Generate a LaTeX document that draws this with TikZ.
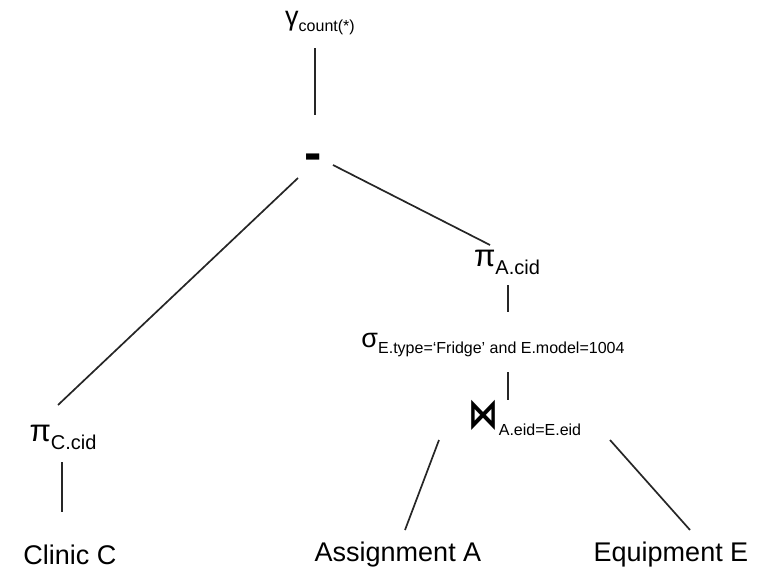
\documentclass[tikz,border=0pt]{standalone}
\usepackage{fontspec}
\setmainfont{Liberation Sans}
\newfontfamily\symfont{DejaVu Sans}
\usetikzlibrary{calc}

% lowered subscript of an operator
\newcommand\opsub[2][16]{{\fontsize{#1}{#1}\selectfont\raisebox{-0.4em}{#2}}}

\begin{document}
\begin{tikzpicture}[
    x=1pt, y=-1pt,
    op/.style={inner sep=0pt, font=\fontsize{27}{27}\selectfont},
    rel/.style={inner sep=0pt, font=\fontsize{27}{27}\selectfont},
    edge/.style={line width=1.7pt, draw=black!85}
]
\useasboundingbox (0,0) rectangle (769,570);

% Operators
\node[op] (gamma) at (320,23) {γ\opsub{count(*)}};
\node[op, font=\bfseries\fontsize{52}{52}\selectfont] (minus) at (313,162) {-};
\node[op, font=\fontsize{31}{31}\selectfont] (piA) at (507,262) {π\opsub[20]{A.cid}};
\node[op] (sigma) at (493,345) {σ\opsub{E.type=‘Fridge’ and E.model=1004}};
\node[op] (join) at (525,418) {{\symfont\bfseries\fontsize{40}{40}\selectfont\scalebox{0.75}[1.05]{⋈}}\opsub{A.eid=E.eid}};
\node[op, font=\fontsize{31}{31}\selectfont] (piC) at (63,437) {π\opsub[20]{C.cid}};

% Relations
\node[rel] (clinic) at (70,555) {Clinic C};
\node[rel] (assign) at (398,555) {Assignment A};
\node[rel] (equip) at (671,555) {Equipment E};

% Edges
\draw[edge] ($(gamma)+(-5,25)$) -- ($(minus)+(2,-47)$);
\draw[edge] ($(minus)+(-15,16)$) -- ($(piC)+(-5,-32)$);
\draw[edge] ($(minus)+(20,3)$) -- ($(piA)+(-17,-17)$);
\draw[edge] ($(piA)+(1,23)$) -- ($(sigma)+(15,-33)$);
\draw[edge] ($(sigma)+(15,27)$) -- ($(join)+(-17,-18)$);
\draw[edge] ($(join)+(-86,22)$) -- ($(assign)+(7,-25)$);
\draw[edge] ($(join)+(85,22)$) -- ($(equip)+(19,-25)$);
\draw[edge] ($(piC)+(-1,25)$) -- ($(clinic)+(-8,-43)$);

\end{tikzpicture}
\end{document}
